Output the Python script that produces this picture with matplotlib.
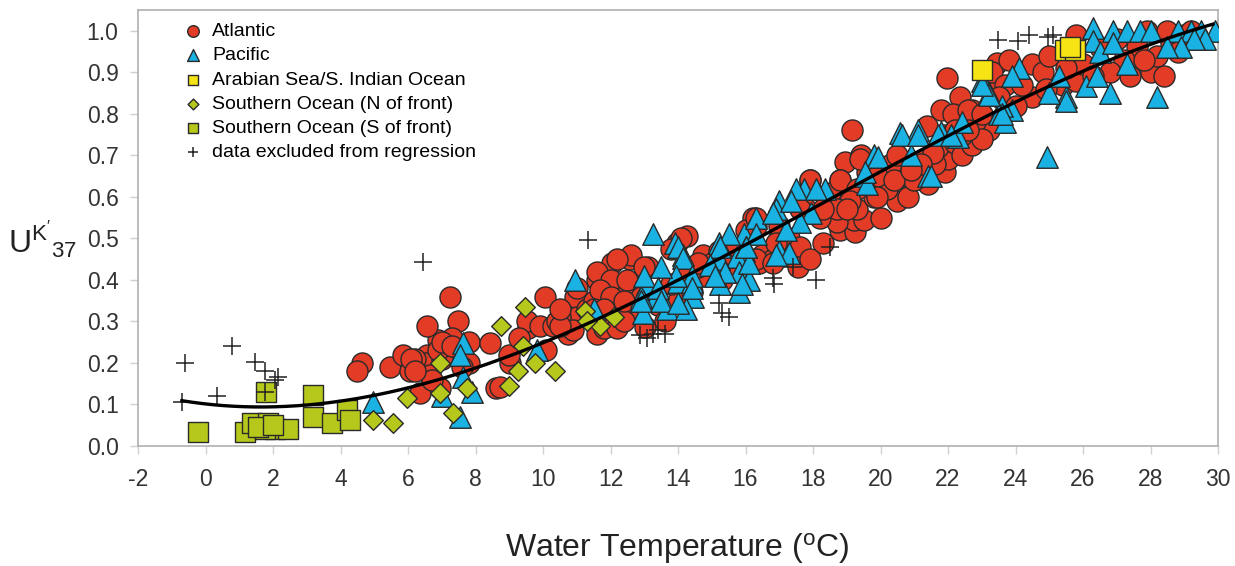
import numpy as np
import matplotlib
matplotlib.use("Agg")
import matplotlib.pyplot as plt

plt.rcParams['font.family'] = ['Liberation Sans', 'DejaVu Sans']
plt.rcParams['mathtext.default'] = 'regular'
plt.rcParams['axes.unicode_minus'] = False

# Atlantic (circles)
atl_t = [4.63, 4.48, 5.47, 5.86, 6.06, 6.55, 6.5, 6.9, 7.13, 7.37, 7.8, 8.43, 6.36, 6.95, 7.8, 6.65, 8.6,
         7.24, 6.55, 7.49, 6.7, 7.3, 7.0, 7.6, 6.2, 6.1, 6.2, 6.9, 7.0, 7.3,
         9.02, 8.73, 9.56, 9.52, 9.9, 10.3, 10.75, 10.06, 10.95, 11.6, 12.0, 12.03, 12.57, 13.12, 12.48,
         11.6, 11.8, 12.2, 12.7, 13.02, 9.0, 10.1, 11.0, 11.3, 11.9, 12.4, 12.9, 13.4, 10.5, 11.5, 12.2,
         13.6, 9.3, 10.9, 10.4, 10.5, 12.6, 12.2, 13.0, 11.6, 12.0, 12.5, 11.0, 11.7, 10.5, 11.5, 12.0,
         12.4, 11.8,
         14.26, 13.97, 14.74, 15.2, 15.6, 16.3, 16.98, 17.4, 14.0, 13.8, 14.4, 16.4, 15.75, 15.6, 16.5,
         16.23, 17.3, 17.6, 17.56, 18.3, 18.8, 14.8, 15.3, 16.8, 14.6, 16.0, 17.0, 17.9, 15.0, 14.2,
         14.1, 13.8, 16.3, 14.6, 15.3, 16.3, 16.9, 16.8,
         19.15, 18.95, 19.43, 18.8, 17.9, 19.24, 19.2, 19.5, 20.0, 20.5, 20.8, 21.4, 21.9, 22.0, 22.6,
         22.65, 23.2, 20.9, 20.5, 21.3, 21.7, 22.2, 19.3, 18.7, 18.4, 19.8, 20.2, 18.2, 19.0, 21.0, 21.6,
         22.4, 20.3, 19.6, 17.8, 18.5, 21.9, 22.8,
         23.44, 22.36, 21.8, 22.7, 22.15, 21.37, 22.7, 22.4, 21.56, 21.2, 20.5, 19.4, 18.8, 19.3, 19.9,
         20.4, 19.1, 19.9, 18.7, 19.0, 17.9, 18.3, 17.6, 20.9, 23.3, 23.0,
         25.8, 23.3, 24.5, 24.8, 25.4, 25.8, 26.0, 27.4, 28.0, 28.4, 28.2, 27.6, 27.2, 26.8, 28.6, 29.0,
         27.9, 23.7, 23.5, 22.6, 22.2, 22.6, 21.97, 24.5, 24.2, 23.0, 24.0, 25.0, 26.5, 27.0, 28.8, 29.4,
         26.3, 24.9, 23.8, 25.5, 27.8, 29.2, 28.5]
atl_u = [0.20, 0.18, 0.19, 0.22, 0.18, 0.22, 0.20, 0.255, 0.24, 0.23, 0.25, 0.247, 0.127, 0.14, 0.20, 0.17, 0.14,
         0.36, 0.29, 0.30, 0.16, 0.26, 0.21, 0.19, 0.21, 0.21, 0.18, 0.23, 0.25, 0.24,
         0.20, 0.143, 0.284, 0.30, 0.29, 0.29, 0.27, 0.36, 0.36, 0.40, 0.385, 0.44, 0.45, 0.43, 0.38,
         0.27, 0.285, 0.285, 0.32, 0.287, 0.22, 0.23, 0.31, 0.33, 0.33, 0.30, 0.36, 0.34, 0.31, 0.35, 0.36,
         0.30, 0.26, 0.28, 0.30, 0.29, 0.46, 0.45, 0.43, 0.42, 0.40, 0.40, 0.38, 0.375, 0.33, 0.33, 0.36,
         0.35, 0.33,
         0.505, 0.49, 0.46, 0.47, 0.45, 0.53, 0.50, 0.47, 0.35, 0.39, 0.37, 0.44, 0.43, 0.47, 0.46,
         0.55, 0.50, 0.48, 0.43, 0.49, 0.52, 0.41, 0.40, 0.45, 0.43, 0.52, 0.53, 0.45, 0.44, 0.41,
         0.50, 0.475, 0.55, 0.44, 0.445, 0.45, 0.49, 0.44,
         0.76, 0.685, 0.70, 0.64, 0.64, 0.516, 0.545, 0.545, 0.55, 0.59, 0.60, 0.63, 0.66, 0.69, 0.745,
         0.73, 0.76, 0.66, 0.645, 0.69, 0.72, 0.73, 0.57, 0.54, 0.58, 0.60, 0.62, 0.55, 0.60, 0.64, 0.68,
         0.70, 0.68, 0.66, 0.57, 0.61, 0.75, 0.78,
         0.922, 0.84, 0.81, 0.81, 0.80, 0.77, 0.725, 0.75, 0.705, 0.68, 0.70, 0.69, 0.64, 0.62, 0.65,
         0.64, 0.59, 0.60, 0.57, 0.57, 0.64, 0.57, 0.57, 0.665, 0.855, 0.74,
         0.99, 0.90, 0.92, 0.90, 0.87, 0.88, 0.92, 0.89, 0.90, 0.89, 0.94, 0.96, 0.93, 0.90, 0.97, 0.99,
         1.0, 0.87, 0.84, 0.81, 0.76, 0.76, 0.887, 0.84, 0.87, 0.80, 0.82, 0.94, 0.96, 0.98, 0.95, 0.98,
         0.89, 0.86, 0.93, 0.91, 0.93, 1.0, 1.0]

# Pacific (triangles)
pac_t = [4.97, 7.63, 7.54, 7.64, 7.54, 7.9, 7.0, 9.83, 10.95, 13.26, 13.9, 14.15, 15.2, 15.97, 15.97,
         16.98, 15.75, 15.8, 15.8, 13.07, 12.97, 12.97, 13.36, 13.66, 14.0, 14.4, 14.45, 14.25, 15.1,
         15.24, 11.5, 20.58, 21.1, 21.8, 22.3, 19.8, 19.5, 19.6, 21.4, 20.9, 18.35, 17.74, 17.5, 17.0,
         16.9, 16.3, 16.3, 15.5, 15.2, 15.4, 16.1, 16.1, 16.0, 17.3, 17.95, 17.6, 23.7, 23.9, 24.93,
         26.3, 26.9, 27.3, 27.7, 28.0, 28.8, 29.2, 29.5, 29.9, 29.6, 29.3, 28.9, 28.5, 26.3, 26.5, 26.9,
         27.3, 26.8, 26.1, 28.2, 26.4, 25.5, 25.5, 25.0, 25.3, 24.1, 23.9, 23.0, 23.2, 23.6, 23.5, 22.4,
         12.9, 20.63, 21.1, 21.7, 22.1, 19.93, 19.55, 21.5, 18.1, 23.2, 23.0, 23.6,
         14.0, 14.15, 15.24, 16.8, 17.35, 17.2, 16.0, 15.9, 16.9, 14.95, 15.1, 14.4, 14.4, 13.95, 13.5,
         13.0, 13.4, 12.9, 13.5, 14.0]
pac_u = [0.107, 0.248, 0.22, 0.167, 0.07, 0.13, 0.12, 0.23, 0.40, 0.51, 0.49, 0.46, 0.49, 0.51, 0.47,
         0.47, 0.455, 0.42, 0.37, 0.39, 0.35, 0.32, 0.36, 0.33, 0.395, 0.395, 0.36, 0.33, 0.435,
         0.39, 0.33, 0.754, 0.76, 0.755, 0.745, 0.70, 0.65, 0.63, 0.65, 0.70, 0.62, 0.62, 0.62, 0.59,
         0.57, 0.55, 0.51, 0.51, 0.45, 0.42, 0.40, 0.44, 0.48, 0.465, 0.56, 0.54, 0.78, 0.81, 0.697,
         1.006, 1.0, 1.0, 1.0, 1.0, 1.0, 1.0, 1.0, 1.0, 0.98, 0.98, 0.96, 0.96, 0.975, 0.95, 0.97,
         0.92, 0.85, 0.866, 0.84, 0.89, 0.84, 0.83, 0.85, 0.89, 0.91, 0.89, 0.88, 0.85, 0.82, 0.80, 0.78,
         0.36, 0.75, 0.75, 0.75, 0.75, 0.697, 0.66, 0.65, 0.62, 0.846, 0.87, 0.80,
         0.48, 0.453, 0.48, 0.56, 0.59, 0.52, 0.48, 0.39, 0.46, 0.435, 0.41, 0.41, 0.38, 0.41, 0.43,
         0.41, 0.38, 0.35, 0.35, 0.345]

# Arabian Sea / S. Indian Ocean (yellow squares)
ara_t = [23.0, 25.47, 25.76, 25.6]
ara_u = [0.906, 0.954, 0.954, 0.96]

# Southern Ocean, N of front (diamonds)
son_t = [4.97, 5.56, 5.96, 6.95, 6.95, 7.34, 7.74, 8.75, 9.47, 9.42, 9.76, 9.27, 10.36, 8.98,
         11.24, 11.68, 12.1, 11.3]
son_u = [0.063, 0.055, 0.115, 0.20, 0.128, 0.08, 0.14, 0.29, 0.335, 0.24, 0.20, 0.18, 0.18, 0.145,
         0.324, 0.29, 0.31, 0.30]

# Southern Ocean, S of front (olive squares)
sos_t = [-0.22, 1.17, 1.37, 1.86, 2.06, 2.45, 1.75, 3.19, 3.19, 3.74, 4.18, 4.28, 1.78, 1.55, 2.0]
sos_u = [0.034, 0.034, 0.055, 0.055, 0.04, 0.04, 0.04, 0.123, 0.07, 0.055, 0.087, 0.063, 0.13, 0.045, 0.05]

# excluded from regression (crosses)
exc_t = [-0.6, -0.7, 0.33, 0.78, 1.47, 1.76, 2.15, 2.05, 1.76, 6.45, 11.34, 12.87, 13.27, 13.6, 13.07,
         15.2, 15.5, 15.3, 16.8, 16.85, 17.4, 18.5, 18.1, 23.48, 24.07, 24.4, 24.97, 25.1, 13.4]
exc_u = [0.20, 0.107, 0.12, 0.24, 0.203, 0.18, 0.167, 0.16, 0.13, 0.444, 0.496, 0.267, 0.27, 0.27, 0.26,
         0.344, 0.31, 0.32, 0.404, 0.39, 0.43, 0.48, 0.40, 0.978, 0.975, 0.99, 0.986, 0.99, 0.28]

# regression curve
fit_t = [-0.7, 1.3, 3.3, 5.0, 7.2, 8.7, 11.7, 14.65, 17.6, 19.6, 22.06, 24.04, 25.0, 28.0, 29.85]
fit_u = [0.107, 0.095, 0.103, 0.123, 0.167, 0.212, 0.30, 0.428, 0.55, 0.649, 0.749, 0.834, 0.866, 0.962, 1.018]

fig = plt.figure(figsize=(12.35, 5.66), dpi=100)
ax = fig.add_axes([138 / 1235, 1 - 446 / 566, 1080 / 1235, 436 / 566])

ec = '#2a2a2a'
ax.scatter(atl_t, atl_u, s=230, marker='o', c='#e23b26', edgecolors=ec, linewidths=1, label='Atlantic', zorder=2)
ax.scatter(pac_t, pac_u, s=240, marker='^', c='#19b2e3', edgecolors=ec, linewidths=1, label='Pacific', zorder=3)
ax.scatter(ara_t, ara_u, s=200, marker='s', c='#f7e414', edgecolors=ec, linewidths=1,
           label='Arabian Sea/S. Indian Ocean', zorder=4)
ax.scatter(son_t, son_u, s=100, marker='D', c='#b7c81c', edgecolors=ec, linewidths=1,
           label='Southern Ocean (N of front)', zorder=4)
ax.scatter(sos_t, sos_u, s=200, marker='s', c='#b7c81c', edgecolors=ec, linewidths=1,
           label='Southern Ocean (S of front)', zorder=4)
ax.scatter(exc_t, exc_u, s=170, marker='+', c='#222222', linewidths=1.1,
           label='data excluded from regression', zorder=5)

coef = np.polyfit(fit_t, fit_u, 3)
tt = np.linspace(fit_t[0], fit_t[-1], 200)
ax.plot(tt, np.polyval(coef, tt), color='black', lw=2.4, zorder=6)

ax.set_xlim(-2, 30)
ax.set_ylim(0, 1.05)
ax.set_xticks(np.arange(-2, 31, 2))
ax.set_yticks(np.arange(0, 1.01, 0.1))
ax.set_yticklabels([f'{v:.1f}' for v in np.arange(0, 1.01, 0.1)])
for s in ax.spines.values():
    s.set_color('#b0b0b0')
    s.set_linewidth(1.2)
ax.tick_params(axis='both', colors='#d0d0d0', labelcolor='#333333', labelsize=16.5, length=6, width=1)
ax.tick_params(axis='x', pad=10)
ax.tick_params(axis='y', pad=8)

fig.text(677 / 1235, 1 - 548 / 566, 'Water Temperature ($^{o}$C)', fontsize=23, color='#222222',
         ha='center', va='center')
fig.text(8 / 1235, 1 - 240 / 566, "U$^{K'}$$_{37}$", fontsize=23, color='#222222', va='center', ha='left')

leg = ax.legend(loc='upper left', bbox_to_anchor=(0.03, 1.0), frameon=False, fontsize=14,
                markerscale=0.55, handletextpad=0.5, labelspacing=0.34, borderaxespad=0.25,
                handlelength=1.0)

fig.savefig('out.png', dpi=100)
